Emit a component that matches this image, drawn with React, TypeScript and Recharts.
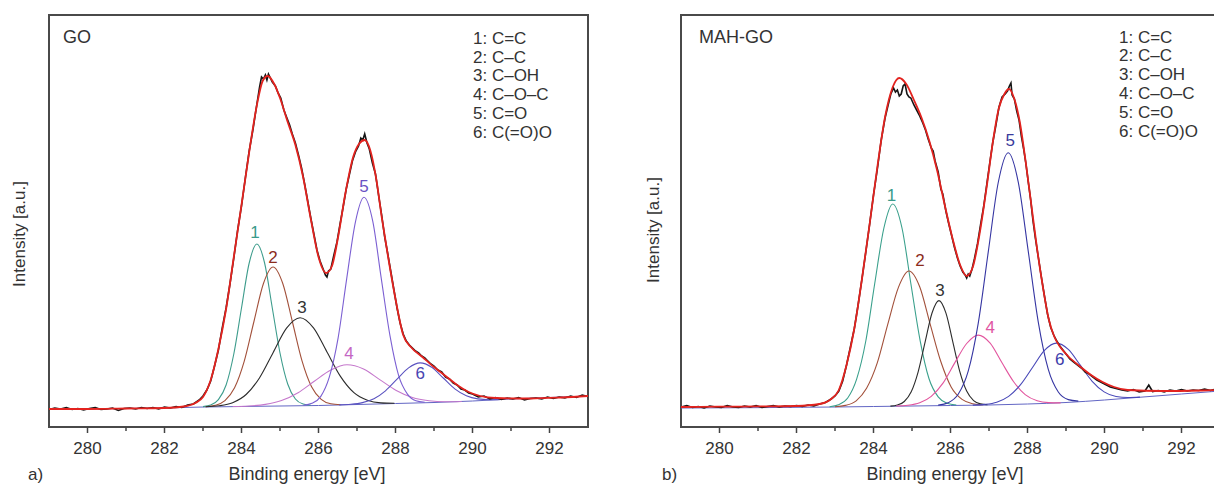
import React from "react";
import { LineChart, Line, XAxis, YAxis, ReferenceArea, ReferenceDot } from "recharts";

const FONT = '"Liberation Sans", Arial, Helvetica, sans-serif';

const E_MIN = 279;
const E_MAX = 293;
const I_MAX = 412;
const E_TICKS = [280, 281, 282, 283, 284, 285, 286, 287, 288, 289, 290, 291, 292];
const PEAK_NAMES = ["1: C=C", "2: C–C", "3: C–OH", "4: C–O–C", "5: C=O", "6: C(=O)O"];
const PEAK_IDS = ["1", "2", "3", "4", "5", "6"];

// ---- a) GO ----  [binding energy eV, intensity a.u.]
const GO_MEASURED = [
  [279.0, 17.5], [279.15, 19], [279.3, 18], [279.45, 19.5], [279.6, 17.5], [279.75, 18.5], [279.9, 17],
  [280.05, 18.5], [280.2, 19.5], [280.35, 17.5], [280.5, 18], [280.65, 19], [280.8, 16.5], [280.95, 18.5],
  [281.1, 19], [281.25, 18], [281.4, 19.5], [281.55, 18.5], [281.7, 19.5], [281.85, 18], [282.0, 20],
  [282.15, 19], [282.3, 20.5], [282.45, 19.5], [282.6, 22], [282.75, 23], [282.9, 27], [283.0, 31],
  [283.1, 37], [283.2, 46], [283.3, 61], [283.4, 77], [283.5, 99], [283.6, 119], [283.7, 143], [283.8, 169],
  [283.9, 197], [284.0, 221], [284.1, 249], [284.2, 276], [284.3, 298], [284.4, 323], [284.47, 340],
  [284.52, 350], [284.57, 348], [284.62, 352], [284.66, 347], [284.7, 353], [284.75, 349], [284.8, 345],
  [284.88, 341], [284.95, 334], [285.02, 329], [285.1, 317], [285.18, 309], [285.25, 302], [285.32, 293],
  [285.4, 284], [285.48, 272], [285.56, 259], [285.64, 243], [285.72, 226], [285.8, 209], [285.88, 193],
  [285.96, 177], [286.04, 166], [286.12, 158], [286.18, 152], [286.22, 150], [286.26, 156], [286.32, 158],
  [286.4, 172], [286.48, 185], [286.56, 203], [286.64, 220], [286.72, 238], [286.8, 252], [286.88, 266],
  [286.96, 275], [287.04, 281], [287.1, 289], [287.15, 287], [287.2, 293], [287.26, 284], [287.32, 278],
  [287.4, 264], [287.48, 253], [287.56, 232], [287.64, 212], [287.72, 190], [287.8, 173], [287.88, 155],
  [287.96, 137], [288.04, 119], [288.12, 104], [288.2, 93], [288.28, 86], [288.36, 82], [288.44, 79],
  [288.52, 76], [288.6, 74], [288.68, 71], [288.76, 69], [288.84, 66], [288.92, 63], [289.0, 61],
  [289.1, 57], [289.2, 55], [289.3, 50], [289.4, 48], [289.5, 44], [289.6, 42], [289.7, 38], [289.8, 37],
  [289.9, 34], [290.0, 33], [290.15, 30], [290.3, 31], [290.45, 28], [290.6, 29.5], [290.75, 27.5],
  [290.9, 29], [291.05, 28], [291.2, 29.5], [291.35, 27], [291.5, 28.5], [291.65, 29], [291.8, 28],
  [291.95, 30], [292.1, 28.5], [292.25, 30], [292.4, 29], [292.55, 31], [292.7, 29.5], [292.85, 32], [293.0, 30.5],
];
const GO_FIT = [
  [279, 18], [280, 18], [281, 18.5], [282, 19], [282.5, 20.5], [282.8, 24], [283.0, 30], [283.2, 47],
  [283.4, 78], [283.6, 118], [283.8, 170], [284.0, 222], [284.2, 275], [284.4, 322], [284.55, 346],
  [284.68, 351], [284.85, 343], [285.0, 329], [285.2, 305], [285.4, 282], [285.6, 250], [285.8, 208],
  [286.0, 170], [286.2, 154], [286.35, 161], [286.5, 188], [286.7, 234], [286.9, 270], [287.05, 283],
  [287.2, 287], [287.35, 276], [287.5, 248], [287.65, 208], [287.8, 172], [288.0, 128], [288.2, 92],
  [288.4, 80], [288.7, 70], [289.0, 60], [289.3, 51], [289.6, 42], [289.9, 35], [290.2, 31], [290.6, 29],
  [291.5, 28.5], [292.3, 29.5], [293, 31],
];
const GO_BASE = [
  [279, 18], [282, 19], [283, 20], [284, 20.5], [285, 21], [286, 21.5], [287, 22.5], [288, 23.5],
  [289, 24.5], [290, 26], [291, 28], [292, 29.5], [293, 31],
];
const GO_C1 = [[283.0, 20.4], [283.2, 21.9], [283.4, 27.3], [283.6, 42], [283.8, 73], [284.0, 119], [284.2, 164], [284.4, 183], [284.6, 164], [284.8, 119], [285.0, 74], [285.2, 43], [285.4, 28], [285.6, 23], [285.8, 21.8]];
const GO_C2 = [[283.07, 20.3], [283.32, 21.7], [283.57, 26.4], [283.82, 39.2], [284.07, 65.6], [284.32, 105], [284.57, 143.5], [284.82, 160], [285.07, 143.7], [285.32, 105.5], [285.57, 66.4], [285.82, 40.2], [286.07, 27.6], [286.32, 23.2], [286.57, 22.3]];
const GO_C3 = [[283.07, 20.2], [283.42, 21.2], [283.77, 24.3], [284.12, 32.5], [284.47, 49.3], [284.82, 74.3], [285.17, 98.8], [285.52, 109.3], [285.87, 99.1], [286.22, 75], [286.57, 50.6], [286.92, 34.3], [287.27, 26.7], [287.62, 24.1], [287.97, 23.7]];
const GO_C4 = [[283.77, 20.5], [284.19, 21], [284.62, 22.6], [285.04, 26.4], [285.47, 34.2], [285.89, 45.7], [286.32, 57], [286.74, 62.2], [287.17, 58], [287.59, 47.4], [288.02, 36.5], [288.44, 29.4], [288.87, 26.2], [289.29, 25.2], [289.72, 25.5]];
const GO_C5 = [[285.61, 21.8], [285.83, 23.7], [286.06, 30.6], [286.28, 49.8], [286.51, 89.2], [286.73, 147.7], [286.96, 205.2], [287.18, 229.7], [287.41, 205.6], [287.63, 148.6], [287.86, 90.6], [288.08, 51.6], [288.31, 32.9], [288.53, 26.3], [288.76, 24.8]];
const GO_C6 = [[286.54, 22.1], [286.84, 22.7], [287.14, 24.4], [287.44, 28.3], [287.74, 36.2], [288.04, 47.8], [288.34, 59.1], [288.64, 64.1], [288.94, 59.7], [289.24, 49], [289.54, 38.1], [289.84, 31.2], [290.14, 28.1], [290.44, 27.3], [290.74, 27.6]];
const GO_LABEL_AT = [[284.35, 195], [284.82, 170], [285.57, 120], [286.79, 74], [287.18, 241], [288.64, 54]];

// ---- b) MAH-GO ----
const MAH_MEASURED = [
  [279.0, 20], [279.15, 21.5], [279.3, 19.5], [279.45, 20.5], [279.6, 19], [279.75, 21], [279.9, 20],
  [280.05, 19.5], [280.2, 21.5], [280.35, 20], [280.5, 19.5], [280.65, 21], [280.8, 20], [280.95, 21.5],
  [281.1, 19.5], [281.25, 20.5], [281.4, 21.5], [281.55, 20], [281.7, 21], [281.85, 20.5], [282.0, 21.5],
  [282.15, 20.5], [282.3, 22], [282.45, 21], [282.6, 23], [282.75, 24.5], [282.9, 28], [283.0, 31],
  [283.1, 36], [283.2, 46], [283.3, 62], [283.4, 80], [283.5, 98], [283.6, 122], [283.7, 148], [283.8, 175],
  [283.9, 203], [284.0, 232], [284.1, 258], [284.2, 287], [284.3, 309], [284.38, 322], [284.45, 333],
  [284.52, 339], [284.57, 335], [284.62, 337], [284.67, 331], [284.72, 333], [284.77, 341], [284.82, 343],
  [284.87, 333], [284.92, 330], [284.97, 329], [285.05, 322], [285.12, 317], [285.2, 311], [285.28, 304],
  [285.35, 297], [285.42, 288], [285.5, 279], [285.55, 276], [285.6, 266], [285.68, 255], [285.75, 238],
  [285.8, 233], [285.88, 216], [285.95, 204], [286.02, 193], [286.1, 180], [286.18, 169], [286.25, 161],
  [286.32, 155], [286.38, 152], [286.42, 149], [286.46, 153], [286.5, 151], [286.56, 158], [286.62, 168],
  [286.7, 183], [286.78, 202], [286.86, 220], [286.94, 242], [287.02, 264], [287.1, 285], [287.18, 302],
  [287.26, 320], [287.34, 330], [287.42, 333], [287.48, 336], [287.53, 341], [287.57, 344], [287.6, 332],
  [287.66, 328], [287.72, 316], [287.78, 307], [287.84, 291], [287.9, 278], [287.96, 263], [288.02, 245],
  [288.08, 228], [288.14, 207], [288.2, 190], [288.28, 170], [288.36, 150], [288.44, 131], [288.52, 113],
  [288.6, 100], [288.68, 92], [288.76, 86], [288.84, 81], [288.92, 77], [289.0, 73], [289.1, 68],
  [289.2, 65], [289.3, 62], [289.4, 59], [289.5, 55], [289.6, 53], [289.7, 50], [289.8, 47], [289.9, 45],
  [290.0, 43], [290.15, 40], [290.3, 38.5], [290.45, 37], [290.6, 36], [290.75, 37.5], [290.9, 35],
  [291.05, 36], [291.15, 42], [291.25, 35.5], [291.4, 36.5], [291.55, 35], [291.7, 37], [291.85, 36],
  [292.0, 37.5], [292.15, 36], [292.3, 37], [292.45, 36.5], [292.6, 38], [292.75, 36.5], [292.9, 38], [293.0, 37],
];
const MAH_FIT = [
  [279, 20], [280, 20.3], [281, 20.6], [282, 21], [282.6, 23], [282.9, 28], [283.1, 37], [283.3, 62],
  [283.5, 98], [283.7, 148], [283.9, 203], [284.1, 260], [284.3, 310], [284.5, 340], [284.67, 349],
  [284.85, 343], [285.05, 327], [285.25, 309], [285.45, 286], [285.65, 257], [285.85, 222], [286.05, 189],
  [286.25, 162], [286.42, 151], [286.58, 160], [286.75, 192], [286.95, 243], [287.1, 285], [287.25, 318],
  [287.4, 333], [287.52, 338], [287.65, 329], [287.8, 305], [287.95, 266], [288.1, 222], [288.25, 178],
  [288.4, 140], [288.55, 108], [288.7, 90], [288.85, 80], [289.05, 71], [289.35, 61], [289.65, 52],
  [289.95, 45], [290.25, 40], [290.6, 37], [291.5, 36], [292.5, 36.5], [293, 37],
];
const MAH_BASE = [
  [279, 19], [283, 20], [284, 20.5], [285, 21], [286, 21.5], [287, 22], [288, 23], [289, 24.5],
  [290, 27], [291, 30], [292, 33], [293, 36],
];
const MAH_C1 = [[282.86, 20.3], [283.09, 22.2], [283.33, 29], [283.56, 47.6], [283.8, 86], [284.03, 143], [284.27, 199], [284.5, 223], [284.74, 199], [284.97, 143.5], [285.21, 86.7], [285.44, 48.5], [285.68, 30.2], [285.91, 23.7], [286.15, 22]];
const MAH_C2 = [[283.0, 20.3], [283.27, 21.6], [283.55, 26.2], [283.82, 38.7], [284.1, 64.3], [284.37, 102.6], [284.65, 139.9], [284.92, 156], [285.2, 140.2], [285.47, 103.1], [285.75, 65.2], [286.02, 39.8], [286.3, 27.6], [286.57, 23.3], [286.85, 22.2]];
const MAH_C3 = [[284.44, 20.9], [284.62, 22], [284.8, 25.5], [284.98, 35.2], [285.16, 55.2], [285.34, 84.9], [285.52, 114], [285.7, 126.4], [285.88, 114.1], [286.06, 85.2], [286.24, 55.7], [286.42, 35.9], [286.6, 26.4], [286.78, 23.1], [286.96, 22.2]];
const MAH_C4 = [[284.59, 21], [284.89, 21.7], [285.2, 24.2], [285.5, 30.7], [285.81, 44.1], [286.11, 64.1], [286.42, 83.5], [286.72, 91.9], [287.03, 83.8], [287.33, 64.7], [287.64, 45.3], [287.94, 32.4], [288.25, 26.3], [288.55, 24.4], [288.86, 24.1]];
const MAH_C5 = [[285.68, 21.9], [285.94, 24.3], [286.2, 32.7], [286.46, 55.8], [286.72, 103.7], [286.98, 174.8], [287.24, 244.5], [287.5, 274.3], [287.76, 244.9], [288.02, 175.6], [288.28, 104.9], [288.54, 57.6], [288.8, 35], [289.06, 27.4], [289.32, 25.9]];
const MAH_C6 = [[286.58, 21.9], [286.89, 22.6], [287.2, 24.8], [287.51, 30.6], [287.82, 42.3], [288.13, 59.5], [288.44, 76.6], [288.75, 83.9], [289.06, 77.6], [289.37, 61.8], [289.68, 45.7], [289.99, 35.1], [290.3, 30.5], [290.61, 29.5], [290.92, 29.9]];
const MAH_LABEL_AT = [[284.47, 232], [285.21, 167], [285.73, 137], [287.03, 100], [287.55, 287], [288.84, 68]];

const GO_COLORS = ["#3d9c8c", "#a2503a", "#2b2b2b", "#c578cc", "#7b5fd2", "#5a52c0"];
const GO_LABEL_COLORS = ["#3a9a8a", "#8c2c1c", "#333333", "#c466c4", "#6a52c4", "#4a46b2"];
const MAH_COLORS = ["#3aa08c", "#a2503a", "#2b2b2b", "#e2559e", "#3535a2", "#4848b8"];
const MAH_LABEL_COLORS = ["#3a9a8a", "#8c2c1c", "#333333", "#e055a2", "#3a3a9c", "#3c3caa"];

const pts = (arr: number[][]) => arr.map(([e, v]) => ({ e, v }));

function EnergyTick(props: any) {
  const { x, y, payload } = props;
  const major = payload.value % 2 === 0;
  return (
    <g>
      <line x1={x} x2={x} y1={y} y2={y + (major ? 6 : 4)} stroke="#444" strokeWidth={1.5} />
      {major && (
        <text x={x} y={y + 27} textAnchor="middle" fontSize={17} fill="#333" fontFamily={FONT}>
          {payload.value}
        </text>
      )}
    </g>
  );
}

function Panel(props: any) {
  const { width, margin, measured, fit, base, peaks, colors, labelAt, labelColors } = props;
  return (
    <LineChart width={width} height={486} margin={margin}>
      <XAxis
        type="number"
        dataKey="e"
        domain={[E_MIN, E_MAX]}
        ticks={E_TICKS}
        interval={0}
        allowDataOverflow
        height={40}
        axisLine={false}
        tickLine={false}
        tickSize={0}
        tickMargin={0}
        tick={(p: any) => <EnergyTick {...p} />}
      />
      <YAxis type="number" dataKey="v" domain={[0, I_MAX]} allowDataOverflow hide />
      <ReferenceArea x1={E_MIN} x2={E_MAX} y1={0} y2={I_MAX} fill="none" stroke="#4a4a4a" strokeWidth={2} ifOverflow="visible" />
      <Line data={pts(base)} dataKey="v" type="monotone" stroke="#6266c4" strokeWidth={1} dot={false} activeDot={false} isAnimationActive={false} />
      {peaks.map((p: number[][], i: number) => (
        <Line key={"c" + i} data={pts(p)} dataKey="v" type="monotone" stroke={colors[i]} strokeWidth={1.1} dot={false} activeDot={false} isAnimationActive={false} />
      ))}
      <Line data={pts(measured)} dataKey="v" type="linear" stroke="#151515" strokeWidth={1.6} dot={false} activeDot={false} isAnimationActive={false} />
      <Line data={pts(fit)} dataKey="v" type="monotone" stroke="#e3231f" strokeWidth={1.8} dot={false} activeDot={false} isAnimationActive={false} />
      {labelAt.map(([e, v]: number[], i: number) => (
        <ReferenceDot
          key={"l" + i}
          x={e}
          y={v}
          r={0}
          ifOverflow="visible"
          shape={(s: any) => (
            <text x={s.cx} y={s.cy} textAnchor="middle" dominantBaseline="central" fontSize={17} fill={labelColors[i]} fontFamily={FONT}>
              {PEAK_IDS[i]}
            </text>
          )}
        />
      ))}
    </LineChart>
  );
}

export default function App() {
  return (
    <div style={{ position: "absolute", left: 0, top: 0, width: 1214, height: 486, overflow: "hidden", background: "#fff" }}>
      <div style={{ position: "absolute", left: 0, top: 0 }}>
        <Panel
          width={600}
          margin={{ top: 15, right: 12, bottom: 19, left: 49 }}
          measured={GO_MEASURED}
          fit={GO_FIT}
          base={GO_BASE}
          peaks={[GO_C1, GO_C2, GO_C3, GO_C4, GO_C5, GO_C6]}
          colors={GO_COLORS}
          labelAt={GO_LABEL_AT}
          labelColors={GO_LABEL_COLORS}
        />
      </div>
      <div style={{ position: "absolute", left: 600, top: 0 }}>
        <Panel
          width={620}
          margin={{ top: 15, right: 0, bottom: 19, left: 81 }}
          measured={MAH_MEASURED}
          fit={MAH_FIT}
          base={MAH_BASE}
          peaks={[MAH_C1, MAH_C2, MAH_C3, MAH_C4, MAH_C5, MAH_C6]}
          colors={MAH_COLORS}
          labelAt={MAH_LABEL_AT}
          labelColors={MAH_LABEL_COLORS}
        />
      </div>
      <svg width={1214} height={486} style={{ position: "absolute", left: 0, top: 0, pointerEvents: "none" }} fontFamily={FONT} fill="#333">
        <text x={63} y={43} fontSize={18}>GO</text>
        <text x={699} y={43} fontSize={18}>MAH-GO</text>
        {PEAK_NAMES.map((t, i) => (
          <text key={"la" + i} x={473} y={44 + i * 18.7} fontSize={17}>{t}</text>
        ))}
        {PEAK_NAMES.map((t, i) => (
          <text key={"lb" + i} x={1119} y={42.5 + i * 18.8} fontSize={17}>{t}</text>
        ))}
        <text x={307} y={480} fontSize={18} textAnchor="middle">Binding energy [eV]</text>
        <text x={945} y={480} fontSize={18} textAnchor="middle">Binding energy [eV]</text>
        <text transform="translate(25,234) rotate(-90)" fontSize={17} textAnchor="middle">Intensity [a.u.]</text>
        <text transform="translate(659,230) rotate(-90)" fontSize={17} textAnchor="middle">Intensity [a.u.]</text>
        <text x={28} y={480} fontSize={17}>a)</text>
        <text x={662} y={480} fontSize={17}>b)</text>
      </svg>
    </div>
  );
}
